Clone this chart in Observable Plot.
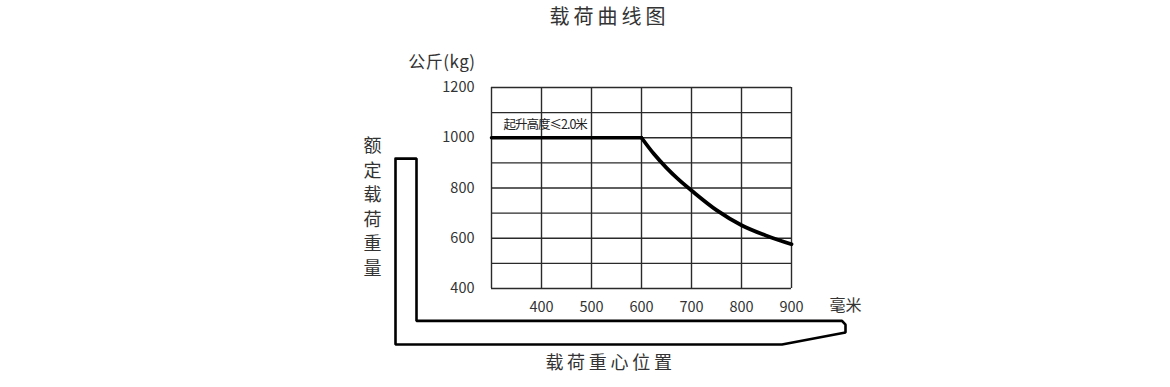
<!DOCTYPE html>
<html>
<head>
<meta charset="utf-8">
<script src="https://cdn.jsdelivr.net/npm/d3@7"></script>
<script src="https://cdn.jsdelivr.net/npm/@observablehq/plot@0.6"></script>
<style>
  html, body { margin: 0; padding: 0; background: #fff; }
  #chart { width: 1170px; height: 387px; }
</style>
</head>
<body>
<div id="chart"></div>
<script>
// ---- data ----
const title = "载荷曲线图";
const yUnit = "公斤(kg)";
const xUnit = "毫米";
const yTitle = "额定载荷重量";
const xTitle = "载荷重心位置";
const note = "起升高度≤2.0米";

const xTicks = [400, 500, 600, 700, 800, 900];
const yTicks = [400, 600, 800, 1000, 1200];
const xGrid = [300, 400, 500, 600, 700, 800, 900];
const yGrid = [400, 500, 600, 700, 800, 900, 1000, 1100, 1200];

// flat part of the load curve (mm, kg)
const flatX = [300, 600];
const flatY = [1000, 1000];
// decreasing part of the load curve (mm, kg)
const curveX = [600, 625, 650, 675, 700, 750, 800, 850, 900];
const curveY = [1000, 935, 880, 832, 790, 712, 652, 610, 576];

// fork outline (decoration), in chart units (mm, kg)
const forkX = [108, 150, 150, 1001, 1008, 1008, 881, 108, 108];
const forkY = [917, 917, 271, 271, 256, 225, 177, 177, 917];

const flat = flatX.map((x, i) => ({x, y: flatY[i]}));
const curve = curveX.map((x, i) => ({x, y: curveY[i]}));
const fork = forkX.map((x, i) => ({x, y: forkY[i]}));

const font = "'Noto Sans CJK SC', 'Noto Sans', sans-serif";
const ink = "#333";

const plot = Plot.plot({
  width: 1170,
  height: 387,
  marginLeft: 491,
  marginRight: 379,
  marginTop: 87,
  marginBottom: 99,
  style: {fontFamily: font, color: ink, background: "#fff", overflow: "visible"},
  x: {domain: [300, 900]},
  y: {domain: [400, 1200]},
  marks: [
    Plot.ruleX(xGrid, {stroke: "#2a2a2a", strokeWidth: 1.4}),
    Plot.ruleY(yGrid, {stroke: "#2a2a2a", strokeWidth: 1.4}),
    Plot.axisY({ticks: yTicks, tickSize: 0, tickPadding: 17, fontSize: 14.5, label: null, tickFormat: d => String(d)}),
    Plot.axisX({ticks: xTicks, tickSize: 0, tickPadding: 13, fontSize: 14.5, label: null, tickFormat: d => String(d)}),
    Plot.line(flat, {x: "x", y: "y", stroke: "#000", strokeWidth: 3.5}),
    Plot.line(curve, {x: "x", y: "y", stroke: "#000", strokeWidth: 3.8, curve: "catmull-rom"}),
    Plot.line(fork, {x: "x", y: "y", stroke: "#000", strokeWidth: 2.6, strokeLinejoin: "miter", clip: false}),
    Plot.text([note], {x: 300, y: 1000, dx: 12, dy: -13, textAnchor: "start", lineAnchor: "middle", fontSize: 12.5, fill: "#222"}),
    Plot.text([title], {frameAnchor: "top", dx: -32, dy: -70, textAnchor: "middle", lineAnchor: "middle", fontSize: 20, fill: ink}),
    Plot.text([yUnit], {frameAnchor: "top-left", dx: -16, dy: -25, textAnchor: "end", lineAnchor: "middle", fontSize: 17, fill: ink}),
    Plot.text([xUnit], {frameAnchor: "bottom-right", dx: 54, dy: 17, textAnchor: "middle", lineAnchor: "middle", fontSize: 16, fill: ink}),
    Plot.text([yTitle.split("").join("\n")], {frameAnchor: "left", dx: -119, dy: 17.5, textAnchor: "middle", lineAnchor: "middle", fontSize: 18, lineHeight: 1.36, fill: ink}),
    Plot.text([xTitle], {frameAnchor: "bottom", dx: -31, dy: 75, textAnchor: "middle", lineAnchor: "middle", fontSize: 18, fill: ink})
  ]
});

const spacing = new Map([[title, "4px"], [xTitle, "3.7px"], [note, "-1px"], [yUnit, "0.5px"]]);
d3.select(plot).selectAll("text").each(function() {
  const s = spacing.get(this.textContent);
  if (s) d3.select(this).style("letter-spacing", s);
});

document.getElementById("chart").appendChild(plot);
</script>
</body>
</html>
